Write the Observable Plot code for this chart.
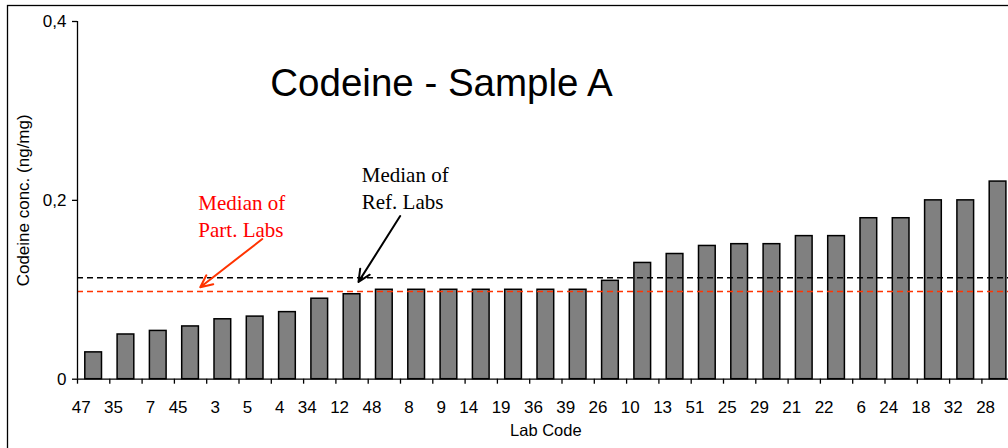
<!DOCTYPE html>
<html>
<head>
<meta charset="utf-8">
<script src="https://cdn.jsdelivr.net/npm/d3@7"></script>
<script src="https://cdn.jsdelivr.net/npm/@observablehq/plot@0.6"></script>
<style>
  html, body { margin: 0; padding: 0; background: #fff; overflow: hidden; }
</style>
</head>
<body>
<div id="chart"></div>
<script>
const labCodes = ["47","35","7","45","3","5","4","34","12","48","8","9","14","19","36","39","26","10","13","51","25","29","21","22","6","24","18","32","28"];
const concValues = [0.03,0.05,0.054,0.059,0.067,0.07,0.075,0.09,0.095,0.1,0.1,0.1,0.1,0.1,0.1,0.1,0.11,0.13,0.14,0.149,0.151,0.151,0.16,0.16,0.18,0.18,0.2,0.2,0.221];
const yTicks = [0, 0.2, 0.4];
const refLabsMedian = 0.1135;
const partLabsMedian = 0.098;
const title = "Codeine - Sample A";
const yLabel = "Codeine conc. (ng/mg)";
const xLabel = "Lab Code";
// annotations: text, position in (bar index, value) units
const noteTexts = ["Median of\nPart. Labs", "Median of\nRef. Labs"];
const noteX = [3.74, 8.8];
const noteY = [0.1839, 0.2153];
const noteColors = ["#ff0000", "#000000"];
const arrowFromX = [5.72, 9.99];
const arrowFromY = [0.1567, 0.1825];
const arrowToX = [3.8, 8.7];
const arrowToY = [0.1029, 0.1088];
const arrowColors = ["#ff3300", "#000000"];

const bars = labCodes.map((code, i) => ({code, i, value: concValues[i]}));
const notes = noteTexts.map((t, i) => ({t, x: noteX[i], y: noteY[i], c: noteColors[i]}));
const arrows = arrowFromX.map((x, i) => ({x1: x, y1: arrowFromY[i], x2: arrowToX[i], y2: arrowToY[i], c: arrowColors[i]}));

const step = 32.3, x0 = 77;
const sans = "Liberation Sans, Arial, sans-serif";
const serif = "Liberation Serif, Times New Roman, serif";

const plot = Plot.plot({
  width: 1008,
  height: 448,
  marginLeft: x0,
  marginRight: 0,
  marginTop: 21,
  marginBottom: 69.3,
  style: {fontFamily: sans, color: "#000", background: "#fff", overflow: "hidden"},
  x: {type: "linear", domain: [0, labCodes.length], range: [x0, x0 + step * labCodes.length]},
  y: {domain: [0, 0.4]},
  marks: [
    Plot.frame({insetLeft: -70, insetTop: -16, insetRight: -300, insetBottom: -300, stroke: "#000", strokeWidth: 1.3}),
    Plot.rectY(bars, {x1: "i", x2: d => d.i + 1, y: "value", insetLeft: 7.8, insetRight: 7.8, fill: "#808080", stroke: "#000", strokeWidth: 1.5}),
    Plot.ruleY([refLabsMedian], {stroke: "#000", strokeWidth: 1.4, strokeDasharray: "6,4"}),
    Plot.ruleY([partLabsMedian], {stroke: "#ff3300", strokeWidth: 1.6, strokeDasharray: "6,4"}),
    Plot.ruleX([0], {y1: 0, y2: 0.4, stroke: "#000", strokeWidth: 1.3}),
    Plot.ruleY([0], {stroke: "#000", strokeWidth: 1.3}),
    Plot.axisY({ticks: yTicks, tickFormat: d => d === 0 ? "0" : d3.format(".1f")(d).replace(".", ","), tickSize: 5, tickPadding: 6, fontSize: 17, label: null, strokeWidth: 1.3}),
    Plot.axisX({ticks: d3.range(labCodes.length + 1), tickSize: 5, tickFormat: () => "", label: null, strokeWidth: 1.3}),
    Plot.axisX({ticks: labCodes.map((c, i) => i + 0.5), tickSize: 0, tickPadding: 22, tickFormat: v => labCodes[Math.floor(v)], textAnchor: "end", dx: -3, fontSize: 17, label: null}),
    Plot.text([xLabel], {frameAnchor: "bottom-left", dx: step * labCodes.length / 2, dy: 57, text: d => d, fontSize: 16.5, textAnchor: "middle", lineAnchor: "bottom"}),
    Plot.text([yLabel], {frameAnchor: "left", dx: -54, rotate: -90, text: d => d, fontSize: 17, textAnchor: "middle"}),
    Plot.text([title], {frameAnchor: "top-left", dx: 364, dy: 62.5, text: d => d, fontSize: 38.5, textAnchor: "middle", lineAnchor: "middle"}),
    Plot.text(notes, {x: "x", y: "y", text: "t", fill: "c", fontFamily: serif, fontSize: 21, lineHeight: 1.286, textAnchor: "start", lineAnchor: "middle"}),
    Plot.arrow(arrows, {x1: "x1", y1: "y1", x2: "x2", y2: "y2", stroke: "c", strokeWidth: 2, headLength: 10, headAngle: 50})
  ]
});
document.getElementById("chart").appendChild(plot);
</script>
</body>
</html>
